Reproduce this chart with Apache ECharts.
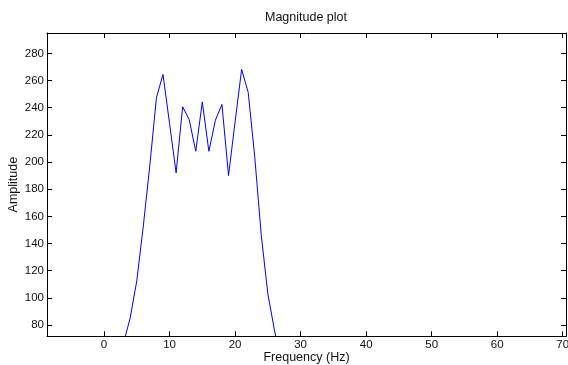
<!DOCTYPE html>
<html>
<head>
<meta charset="utf-8">
<script src="https://cdn.jsdelivr.net/npm/echarts@6/dist/echarts.min.js"></script>
<style>
html,body{margin:0;padding:0;background:#fff;}
#chart{width:568px;height:365px;}
</style>
</head>
<body>
<div id="chart"></div>
<script>
var freq = [3,4,5,6,7,8,9,10,11,12,13,14,15,16,17,18,19,20,21,22,23,24,25,26,27];
var amp = [67,85.4,112.5,153,198,247.3,264.5,228.5,192,240.7,231.3,207.9,244.3,207.9,230.8,242.4,190,229.5,268.2,251.4,204,146,103,76.5,53.5];
var xTicks = [0,10,20,30,40,50,60,70];
var yTicks = [80,100,120,140,160,180,200,220,240,260,280];

var FONT = 'Liberation Sans, Arial, Helvetica, sans-serif';
var TXT = '#111';
var xMin = -8.7, xMax = 70.5, yMin = 71.7, yMax = 295.0;

var chart = echarts.init(document.getElementById('chart'), null, {renderer:'canvas'});
function xa(pos, showLabel){
  return {
    type:'value', position:pos, min:xMin, max:xMax,
    axisLine:{show:true, onZero:false, lineStyle:{color:'#000', width:1}},
    axisTick:{show:true, inside:true, length:5, customValues:xTicks, lineStyle:{color:'#000'}},
    axisLabel:{show:showLabel, customValues:xTicks, margin:3, color:TXT, fontSize:11.5, fontFamily:FONT},
    splitLine:{show:false},
    name: showLabel ? 'Frequency (Hz)' : '',
    nameLocation:'middle', nameGap:15, nameMoveOverlap:false,
    nameTextStyle:{color:TXT, fontSize:12.5, fontFamily:FONT}
  };
}
function ya(pos, showLabel){
  return {
    type:'value', position:pos, min:yMin, max:yMax,
    axisLine:{show:true, onZero:false, lineStyle:{color:'#000', width:1}},
    axisTick:{show:true, inside:true, length:5, customValues:yTicks, lineStyle:{color:'#000'}},
    axisLabel:{show:showLabel, customValues:yTicks, margin:3, color:TXT, fontSize:11.5, fontFamily:FONT},
    splitLine:{show:false},
    name: showLabel ? 'Amplitude' : '',
    nameLocation:'middle', nameGap:27, nameMoveOverlap:false,
    nameTextStyle:{color:TXT, fontSize:12.5, fontFamily:FONT}
  };
}
var data = freq.map(function(f,i){return [f, amp[i]];});
chart.setOption({
  animation:false,
  backgroundColor:'#fff',
  title:{text:'Magnitude plot', left:306, top:11, padding:0, textAlign:'center',
    textStyle:{color:TXT, fontSize:12.5, fontWeight:'normal', fontFamily:FONT}},
  grid:{left:47, right:2, top:33, bottom:28.7, containLabel:false, outerBoundsMode:'none'},
  xAxis:[xa('bottom', true), xa('top', false)],
  yAxis:[ya('left', true), ya('right', false)],
  series:[{
    type:'line', data:data, xAxisIndex:0, yAxisIndex:0,
    showSymbol:false, symbol:'none', clip:true,
    lineStyle:{color:'#0000ff', width:1}
  }]
});
</script>
</body>
</html>
